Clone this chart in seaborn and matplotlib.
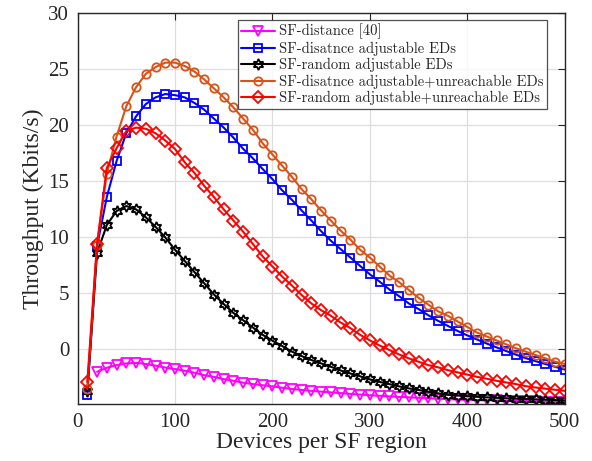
import numpy as np
import matplotlib
matplotlib.use("Agg")
import matplotlib.pyplot as plt
import seaborn as sns

x = list(range(10, 501, 10))
x_mag = x[1:]

sf_distance = [-2.0, -1.64, -1.4, -1.25, -1.2, -1.3, -1.45, -1.62, -1.76,
               -1.9, -2.08, -2.3, -2.45, -2.65, -2.8, -2.97, -3.1, -3.2, -3.3,
               -3.42, -3.53, -3.62, -3.7, -3.77, -3.84, -3.9, -3.97, -4.03, -4.09,
               -4.14, -4.19, -4.24, -4.28, -4.32, -4.36, -4.4, -4.44, -4.47, -4.5,
               -4.52, -4.54, -4.56, -4.58, -4.6, -4.62, -4.64, -4.66, -4.68, -4.7]

sf_dist_adj = [-4.1, 9.2, 13.6, 16.8, 19.3, 20.8, 21.9, 22.5, 22.8, 22.7,
               22.5, 22.0, 21.4, 20.6, 19.8, 18.9, 17.9, 17.05, 16.1, 15.2,
               14.2, 13.35, 12.4, 11.5, 10.55, 9.7, 8.95, 8.2, 7.45, 6.7,
               6.05, 5.35, 4.75, 4.1, 3.6, 3.05, 2.55, 2.1, 1.65, 1.25,
               0.88, 0.52, 0.18, -0.15, -0.47, -0.78, -1.05, -1.3, -1.55, -1.8]

sf_rand_adj = [-3.7, 8.6, 11.1, 12.35, 12.8, 12.5, 11.8, 10.95, 10.0, 8.9,
               7.9, 6.9, 5.9, 4.9, 4.05, 3.25, 2.6, 1.95, 1.3, 0.78,
               0.3, -0.2, -0.6, -0.95, -1.25, -1.55, -1.88, -2.15, -2.4, -2.68,
               -2.9, -3.1, -3.3, -3.48, -3.62, -3.78, -3.92, -4.05, -4.12, -4.18,
               -4.23, -4.28, -4.32, -4.36, -4.4, -4.43, -4.46, -4.49, -4.52, -4.55]

sf_dist_adj_unr = [-3.5, 9.3, 15.7, 19.0, 21.7, 23.4, 24.6, 25.2, 25.6, 25.6,
                   25.3, 24.8, 24.1, 23.3, 22.5, 21.6, 20.6, 19.6, 18.4, 17.4,
                   16.4, 15.4, 14.3, 13.4, 12.4, 11.5, 10.6, 9.8, 8.9, 8.2,
                   7.4, 6.6, 6.0, 5.3, 4.6, 4.0, 3.4, 3.0, 2.5, 2.0,
                   1.5, 1.15, 0.8, 0.45, 0.1, -0.2, -0.5, -0.8, -1.1, -1.3]

sf_rand_adj_unr = [-2.9, 9.4, 16.2, 17.95, 19.5, 19.8, 19.7, 19.3, 18.65, 17.9,
                   16.7, 15.75, 14.6, 13.6, 12.5, 11.5, 10.5, 9.4, 8.3, 7.4,
                   6.5, 5.7, 4.85, 4.1, 3.5, 3.0, 2.4, 1.9, 1.3, 0.8,
                   0.35, -0.05, -0.45, -0.8, -1.1, -1.4, -1.6, -1.85, -2.05, -2.25,
                   -2.45, -2.62, -2.8, -2.95, -3.1, -3.28, -3.4, -3.5, -3.6, -3.7]

labels = ["SF-distance [40]",
          "SF-disatnce adjustable EDs",
          "SF-random adjustable EDs",
          "SF-disatnce adjustable+unreachable EDs",
          "SF-random adjustable+unreachable EDs"]

sns.set_style("white")
plt.rcParams['font.family'] = ['Liberation Serif', 'DejaVu Serif']

fig = plt.figure(figsize=(5.92, 4.61), dpi=100)
ax = fig.add_axes([0.131, 0.123, 0.823, 0.848])

series = [
    (x_mag, sf_distance, "#FF00FF", "v", 6.5),
    (x, sf_dist_adj, "#0000FF", "s", 6.0),
    (x, sf_rand_adj, "#000000", (6, 1, 0), 8.0),
    (x, sf_dist_adj_unr, "#D95319", "o", 6.0),
    (x, sf_rand_adj_unr, "#FF0000", "D", 6.5),
]
for (xx, yy, c, m, ms), lab in zip(series, labels):
    sns.lineplot(x=xx, y=yy, ax=ax, color=c, marker=m, markersize=ms,
                 markerfacecolor="none", markeredgecolor=c, markeredgewidth=1.3,
                 linewidth=1.5, label=lab)

ax.set_xlim(0, 500)
ax.set_ylim(-4.9, 30)
ax.set_xticks([0, 100, 200, 300, 400, 500])
ax.set_yticks([0, 5, 10, 15, 20, 25, 30])
ax.grid(True, color="#dedede", linewidth=0.9)
ax.set_axisbelow(True)
for s in ax.spines.values():
    s.set_color("#262626")
    s.set_linewidth(1.0)
ax.tick_params(direction="in", length=5, width=0.8, color="#262626",
               top=True, right=True, labelsize=15, labelcolor="#262626", pad=6)
ax.set_xlabel("Devices per SF region", fontsize=17, color="#262626", labelpad=0)
ax.set_ylabel("Throughput (Kbits/s)", fontsize=17, color="#262626", labelpad=3)

leg = ax.legend(loc="upper right", bbox_to_anchor=(0.97, 0.99),
                prop={"family": "cmr10", "size": 10.5},
                frameon=True, fancybox=False, edgecolor="#262626",
                handlelength=2.3, handletextpad=0.3, borderpad=0.25,
                labelspacing=0.15, borderaxespad=0.2)
leg.get_frame().set_linewidth(0.9)

fig.savefig("out.png", dpi=100)
